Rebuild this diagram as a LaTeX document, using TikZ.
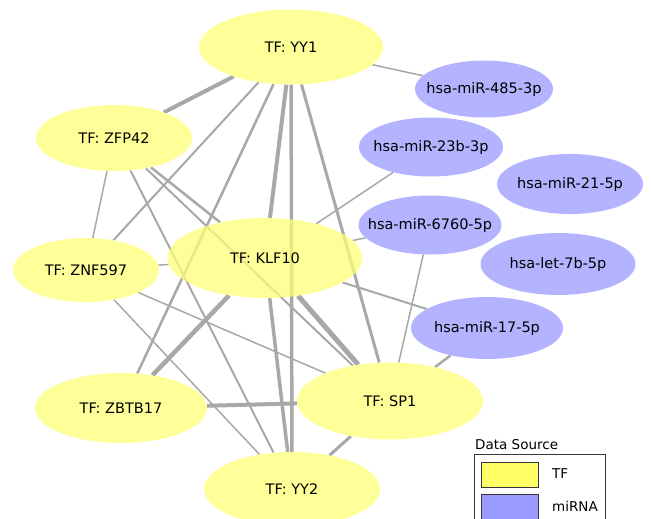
\documentclass[tikz,border=0pt]{standalone}
\usepackage{fontspec}
\setmainfont{DejaVu Sans}
\usetikzlibrary{shapes.geometric}
\definecolor{tfy}{RGB}{255,255,153}
\definecolor{tfyt}{RGB}{255,255,119}
\definecolor{mir}{RGB}{179,179,255}
\definecolor{edgec}{RGB}{168,168,168}
\definecolor{legy}{RGB}{255,255,102}
\definecolor{legp}{RGB}{153,153,255}
\definecolor{legb}{RGB}{55,55,55}
\newcommand{\nlab}[1]{\makebox[0pt][c]{#1}}
\pgfdeclarelayer{background}
\pgfsetlayers{background,main}
\begin{document}
\begin{tikzpicture}[x=1pt,y=-1pt,
  lbl/.style={font=\fontsize{14.5}{17}\selectfont},
  tf/.style={ellipse, fill=tfy, inner sep=0pt, lbl},
  tft/.style={ellipse, fill=tfyt, fill opacity=0.75, text opacity=1, inner sep=0pt, lbl},
  mi/.style={ellipse, fill=mir, inner sep=0pt, lbl},
  lnk/.style={draw=edgec, line width=#1},
  lnk/.default=1.5pt,
  legtxt/.style={anchor=west, inner sep=0pt, font=\fontsize{13.5}{16}\selectfont},
  swatch/.style={draw=legb, line width=0.8pt}]
\useasboundingbox (0,0) rectangle (651,519);

% nodes
\node[tf,  minimum width=184pt, minimum height=75pt] (yy1)    at (291,47)  {\nlab{TF: YY1}};
\node[tf,  minimum width=156pt, minimum height=66pt] (zfp42)  at (114,138) {\nlab{TF: ZFP42}};
\node[tf,  minimum width=146pt, minimum height=64pt] (znf597) at (86,270)  {\nlab{TF: ZNF597}};
\node[tft, minimum width=195pt, minimum height=80pt] (klf10)  at (265,258) {\nlab{TF: KLF10}};
\node[tf,  minimum width=172pt, minimum height=70pt] (zbtb17) at (121,408) {\nlab{TF: ZBTB17}};
\node[tf,  minimum width=186pt, minimum height=77pt] (sp1)    at (390,401) {\nlab{TF: SP1}};
\node[tf,  minimum width=176pt, minimum height=74pt] (yy2)    at (292,489) {\nlab{TF: YY2}};
\node[mi,  minimum width=138pt, minimum height=57pt] (m485)   at (484,89)  {\nlab{hsa-miR-485-3p}};
\node[mi,  minimum width=144pt, minimum height=59pt] (m23b)   at (431,147) {\nlab{hsa-miR-23b-3p}};
\node[mi,  minimum width=146pt, minimum height=60pt] (m21)    at (570,184) {\nlab{hsa-miR-21-5p}};
\node[mi,  minimum width=143pt, minimum height=59pt] (m6760)  at (430,225) {\nlab{hsa-miR-6760-5p}};
\node[mi,  minimum width=155pt, minimum height=62pt] (let7b)  at (558,264) {\nlab{hsa-let-7b-5p}};
\node[mi,  minimum width=152pt, minimum height=62pt] (m17)    at (487,328) {\nlab{hsa-miR-17-5p}};

% edges
\begin{pgfonlayer}{background}
\draw[lnk=4pt]   (yy1) -- (zfp42);
\draw[lnk=1.5pt] (yy1) -- (m485);
\draw[lnk=2pt]   (yy1) -- (znf597);
\draw[lnk=2.5pt] (yy1) -- (zbtb17);
\draw[lnk=4pt]   (yy1) -- (klf10);
\draw[lnk=3.5pt] (yy1) -- (yy2);
\draw[lnk=3pt]   (yy1) -- (sp1);
\draw[lnk=1.5pt] (zfp42) -- (znf597);
\draw[lnk=2pt]   (zfp42) -- (yy2);
\draw[lnk=2.5pt] (zfp42) -- (klf10);
\draw[lnk=2pt]   (zfp42) -- (sp1);
\draw[lnk=1.5pt] (znf597) -- (klf10);
\draw[lnk=1.5pt] (znf597) -- (sp1);
\draw[lnk=1.5pt] (znf597) -- (yy2);
\draw[lnk=4.5pt] (zbtb17) -- (klf10);
\draw[lnk=4pt]   (zbtb17) -- (sp1);
\draw[lnk=5pt]   (klf10) -- (sp1);
\draw[lnk=3.5pt] (klf10) -- (yy2);
\draw[lnk=1.5pt] (klf10) -- (m23b);
\draw[lnk=1.5pt] (klf10) -- (m6760);
\draw[lnk=2pt]   (klf10) -- (m17);
\draw[lnk=1.5pt] (sp1) -- (m6760);
\draw[lnk=2.5pt] (sp1) -- (m17);
\draw[lnk=3pt]   (sp1) -- (yy2);
\end{pgfonlayer}

% legend
\node[legtxt] (legtitle) at (475,445) {Data Source};
\draw[draw=legb, line width=0.8pt] (474,454) rectangle (605,535);
\draw[swatch, fill=legy] (481,462) rectangle (538,487);
\draw[swatch, fill=legp] (481,494) rectangle (538,519);
\node[legtxt] (legtf) at (552,474) {TF};
\node[legtxt] (legmi) at (552,506) {miRNA};
\end{tikzpicture}
\end{document}
